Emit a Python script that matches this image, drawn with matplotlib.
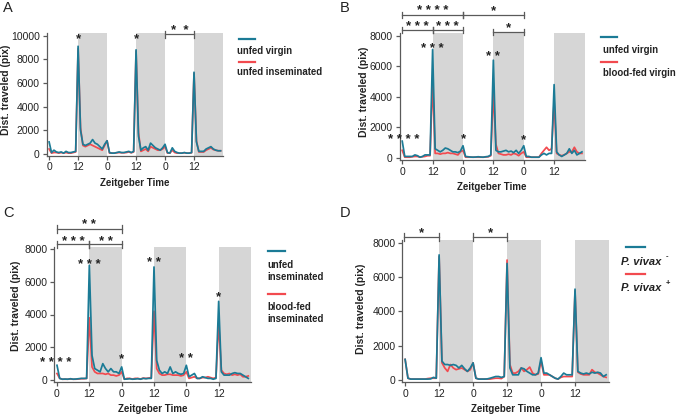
import matplotlib
matplotlib.use("Agg")
import matplotlib.pyplot as plt
from matplotlib.lines import Line2D
import numpy as np

plt.rcParams['font.family'] = ['Liberation Sans', 'DejaVu Sans']

hours = list(range(72))
tick_pos = [0, 12, 24, 36, 48, 60]
tick_labels = ['0', '12', '0', '12', '0', '12']
dark_periods = [(12, 24), (36, 48), (60, 72)]

# Panel A
a_blue = [1000, 100, 300, 150, 100, 150, 50, 200, 100, 100, 150, 200,
          9100, 2000, 800, 700, 800, 900, 1200, 900, 800, 600, 400, 800,
          1100, 100, 50, 50, 100, 150, 100, 100, 150, 200, 100, 200,
          8800, 1500, 300, 500, 600, 300, 900, 700, 500, 400, 300, 500,
          800, 100, 50, 500, 200, 100, 50, 50, 100, 50, 50, 100,
          6900, 1000, 200, 200, 200, 400, 500, 600, 400, 300, 250, 250]
a_red = [400, 50, 100, 100, 50, 100, 50, 100, 50, 50, 100, 150,
         8900, 2200, 700, 600, 700, 800, 700, 600, 500, 400, 300, 700,
         1100, 50, 50, 50, 80, 100, 80, 80, 100, 150, 80, 150,
         8700, 1800, 200, 300, 400, 200, 600, 500, 400, 300, 300, 400,
         600, 50, 50, 300, 100, 50, 50, 50, 80, 50, 50, 80,
         6800, 1100, 150, 150, 150, 300, 400, 500, 350, 300, 250, 250]

# Panel B
b_blue = [1100, 100, 100, 100, 100, 200, 150, 50, 100, 200, 200, 200,
          7100, 600, 500, 400, 500, 650, 600, 500, 400, 400, 350, 450,
          800, 100, 80, 60, 50, 60, 80, 60, 50, 80, 100, 200,
          6400, 500, 400, 400, 450, 500, 400, 450, 350, 500, 300, 500,
          800, 100, 100, 50, 50, 50, 50, 200, 300, 200, 300, 300,
          4800, 400, 200, 100, 200, 300, 600, 300, 500, 200, 300, 400]
b_red = [500, 50, 50, 50, 80, 100, 100, 50, 80, 100, 150, 150,
         5000, 300, 300, 250, 300, 300, 350, 300, 300, 250, 200, 400,
         500, 50, 50, 50, 50, 50, 50, 50, 50, 60, 80, 150,
         4300, 900, 300, 250, 200, 200, 250, 200, 300, 250, 150, 300,
         400, 50, 50, 50, 50, 50, 50, 300, 500, 700, 500, 600,
         3700, 300, 200, 150, 200, 300, 400, 400, 700, 400, 300, 300]

# Panel C
c_blue = [900, 100, 50, 60, 50, 80, 50, 60, 80, 100, 100, 100,
          7000, 1500, 700, 600, 500, 1000, 700, 500, 700, 500, 500, 400,
          800, 50, 60, 80, 50, 60, 80, 50, 100, 80, 100, 100,
          6900, 1200, 600, 400, 500, 400, 800, 400, 500, 400, 350, 400,
          900, 200, 300, 400, 100, 100, 200, 150, 100, 100, 50, 100,
          4800, 500, 300, 300, 300, 400, 450, 400, 400, 300, 200, 100]
c_red = [400, 100, 50, 50, 50, 60, 50, 50, 60, 80, 80, 100,
         3800, 800, 500, 400, 400, 400, 350, 400, 300, 300, 250, 300,
         500, 50, 100, 100, 60, 100, 100, 60, 120, 100, 120, 150,
         4200, 700, 400, 300, 300, 350, 350, 300, 300, 300, 250, 300,
         500, 100, 150, 200, 100, 100, 150, 150, 200, 150, 100, 150,
         3500, 600, 400, 350, 400, 300, 350, 300, 350, 200, 200, 250]

# Panel D
d_blue = [1200, 100, 50, 50, 50, 50, 50, 50, 50, 60, 150, 100,
          7300, 1100, 900, 900, 850, 900, 850, 700, 850, 650, 500, 700,
          1000, 100, 50, 50, 50, 60, 100, 150, 200, 200, 150, 200,
          6800, 700, 300, 300, 300, 700, 650, 500, 400, 300, 300, 400,
          1300, 400, 400, 300, 200, 100, 50, 200, 400, 300, 300, 300,
          5300, 500, 400, 350, 400, 350, 450, 400, 450, 400, 200, 300]
d_red = [1200, 100, 50, 50, 50, 50, 50, 50, 80, 100, 100, 100,
         7200, 1000, 700, 500, 900, 700, 600, 650, 700, 600, 500, 600,
         1000, 100, 50, 50, 50, 50, 50, 80, 100, 100, 80, 200,
         7000, 900, 400, 400, 500, 700, 500, 600, 750, 400, 300, 350,
         1100, 300, 300, 300, 200, 100, 50, 150, 200, 200, 200, 200,
         5200, 450, 350, 300, 300, 300, 600, 450, 400, 300, 200, 150]

BLUE = '#1b7b96'
RED = '#f24a4f'
SHADE = '#d6d6d6'
SPINE = '#5a5a5a'
TXT = '#222222'

W, H = 676, 417
fig = plt.figure(figsize=(W / 100, H / 100), dpi=100)


def px_axes(l, r, t, b):
    return fig.add_axes([l / W, 1 - b / H, (r - l) / W, (b - t) / H])


def fx(x):
    return x / W


def fy(y):
    return 1 - y / H


def setup(ax, blue, red, ylim, yticks, ylab_xy):
    for a, b in dark_periods:
        ax.axvspan(a, b, color=SHADE, lw=0, zorder=0)
    ax.plot(hours, red, color=RED, lw=1.25, zorder=2)
    ax.plot(hours, blue, color=BLUE, lw=1.25, zorder=3)
    ax.set_xlim(-1, 72)
    ax.set_ylim(*ylim)
    ax.set_xticks(tick_pos)
    ax.set_xticklabels(tick_labels)
    ax.set_yticks(yticks)
    ax.set_yticklabels([str(v) for v in yticks])
    for s in ['top', 'right']:
        ax.spines[s].set_visible(False)
    for s in ['left', 'bottom']:
        ax.spines[s].set_color(SPINE)
        ax.spines[s].set_linewidth(0.9)
    ax.tick_params(axis='both', colors=SPINE, labelcolor=TXT,
                   labelsize=7.5, length=3, width=0.9, pad=2)
    ax.set_xlabel('Zeitgeber Time', fontsize=7.0, fontweight='bold',
                  labelpad=4, color=TXT)
    fig.text(fx(ylab_xy[0]), fy(ylab_xy[1]), 'Dist. traveled (pix)',
             fontsize=7.5, fontweight='bold', rotation=90, ha='center',
             va='center', color=TXT)


def bracket(ax, x0, x1, y, label, ty, tick=220):
    ax.plot([x0, x1], [y, y], color=SPINE, lw=0.9, clip_on=False, zorder=5)
    for xx in (x0, x1):
        ax.plot([xx, xx], [y - tick, y + tick], color=SPINE, lw=0.9,
                clip_on=False, zorder=5)
    ax.text((x0 + x1) / 2, ty, label, ha='center', va='center',
            fontsize=9.5, fontweight='bold', color=TXT, clip_on=False)


def star(ax, x, y, label):
    ax.text(x, y, label, ha='center', va='center', fontsize=9.5,
            fontweight='bold', color=TXT, zorder=6)


def legend(x0, x1, tx, rows, fs=6.9):
    for kind, y, val in rows:
        if kind == 'line':
            fig.add_artist(Line2D([fx(x0), fx(x1)], [fy(y), fy(y)],
                                  color=val, lw=1.6))
        else:
            fig.text(fx(tx), fy(y), val, fontsize=fs, fontweight='bold',
                     va='center', ha='left', color=TXT)


# ---- A
axA = px_axes(46.7, 223, 33.3, 155.5)
setup(axA, a_blue, a_red, (-150, 10200), [0, 2000, 4000, 6000, 8000, 10000],
      (6, 90))
star(axA, 12, 9700, '*')
star(axA, 36, 9700, '*')
bracket(axA, 48, 60, 10100, '*  *', 10400, tick=280)
legend(239, 255, 237, [('line', 39, BLUE), ('text', 51, 'unfed virgin'),
                       ('line', 62, RED), ('text', 72, 'unfed inseminated')])

# ---- B
axB = px_axes(399.7, 584.5, 33.3, 159.8)
setup(axB, b_blue, b_red, (-120, 8160), [0, 2000, 4000, 6000, 8000],
      (364, 92))
bracket(axB, 0, 24, 9350, '* * * *', 9600)
bracket(axB, 24, 48, 9350, '*', 9600)
bracket(axB, 0, 12, 8370, '* * *', 8600)
bracket(axB, 12, 24, 8370, '* * *', 8600)
bracket(axB, 36, 48, 8240, '*', 8500)
star(axB, 0.5, 1150, '* * * *')
star(axB, 12, 7150, '* * *')
star(axB, 36, 6630, '* *')
star(axB, 24, 1200, '*')
star(axB, 48, 1150, '*')
legend(601, 617, 603, [('line', 37, BLUE), ('text', 50, 'unfed virgin'),
                       ('line', 62, RED), ('text', 73, 'blood-fed virgin')])

# ---- C
axC = px_axes(54.3, 251, 247, 382)
setup(axC, c_blue, c_red, (-120, 8120), [0, 2000, 4000, 6000, 8000],
      (16, 306))
bracket(axC, 0, 24, 9225, '* *', 9450)
bracket(axC, 0, 12, 8290, '* * *', 8420)
bracket(axC, 12, 24, 8290, '* *', 8420)
star(axC, -0.5, 1050, '* * * *')
star(axC, 12, 7050, '* * *')
star(axC, 24, 1300, '*')
star(axC, 36, 7150, '* *')
star(axC, 48, 1300, '* *')
star(axC, 60, 5050, '*')
legend(268, 285, 267, [('line', 251, BLUE), ('text', 265, 'unfed'),
                       ('text', 277, 'inseminated'),
                       ('line', 294, RED), ('text', 307, 'blood-fed'),
                       ('text', 319, 'inseminated')])

# ---- D
axD = px_axes(402.3, 609, 240, 382)
setup(axD, d_blue, d_red, (-120, 8170), [0, 2000, 4000, 6000, 8000],
      (361, 309))
bracket(axD, -0.3, 12, 8345, '*', 8550)
bracket(axD, 24, 36, 8345, '*', 8550)
for y, col in [(247, BLUE), (274, RED)]:
    fig.add_artist(Line2D([fx(626), fx(645)], [fy(y), fy(y)], color=col, lw=1.6))
fig.text(fx(621), fy(262), 'P. vivax', fontsize=8, fontweight='bold',
         fontstyle='italic', va='center', ha='left', color=TXT)
fig.text(fx(666), fy(257), '-', fontsize=5.5, fontweight='bold',
         va='center', ha='left', color=TXT)
fig.text(fx(621), fy(288), 'P. vivax', fontsize=8, fontweight='bold',
         fontstyle='italic', va='center', ha='left', color=TXT)
fig.text(fx(666), fy(283), '+', fontsize=5.5, fontweight='bold',
         va='center', ha='left', color=TXT)

# panel letters
for letter, x, y in [('A', 8, 8), ('B', 345, 8), ('C', 8, 213), ('D', 345, 213)]:
    fig.text(fx(x), fy(y), letter, fontsize=10.5, ha='center', va='center',
             color=TXT)

fig.savefig('out.png', dpi=100)
